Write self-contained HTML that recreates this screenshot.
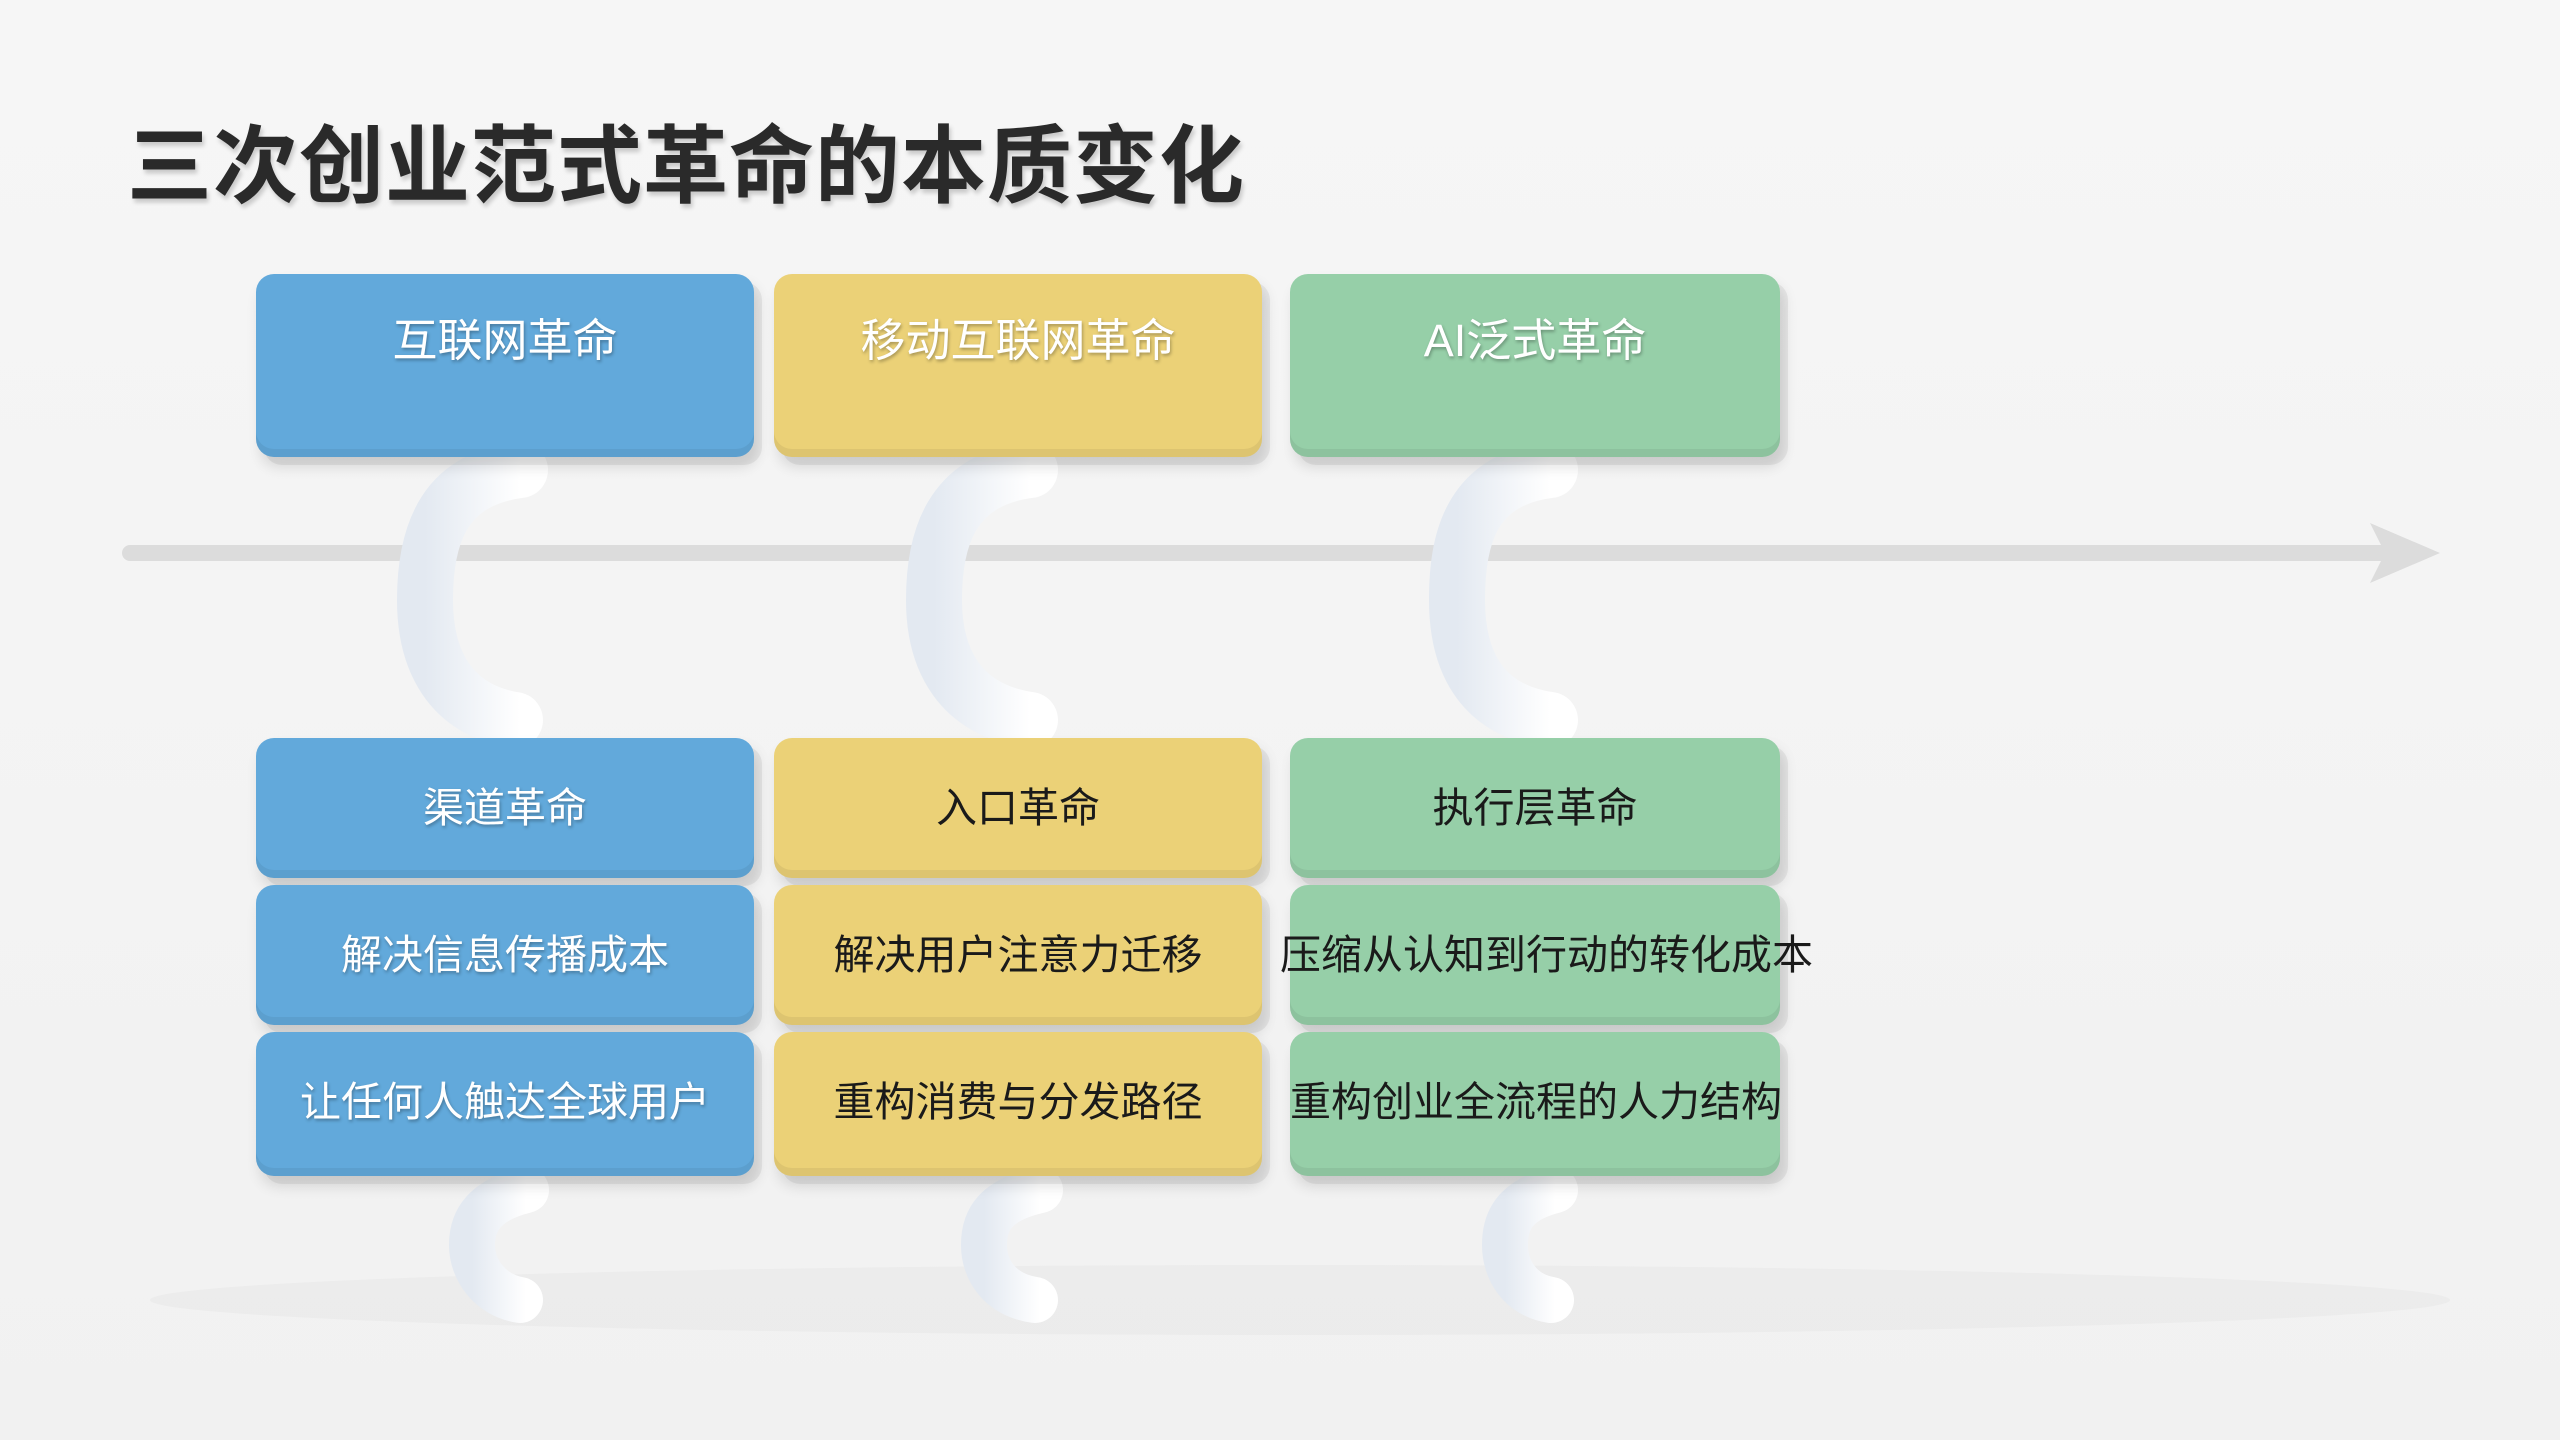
<!DOCTYPE html>
<html><head><meta charset="utf-8"><style>
body{margin:0;width:2560px;height:1440px;background:linear-gradient(#f6f6f6,#f1f1f1);position:relative;overflow:hidden;font-family:"Liberation Sans","Noto Sans CJK SC",sans-serif}
.t{position:absolute;left:127px;top:98px;font-size:85px;font-weight:bold;color:#2a2a2a;letter-spacing:1px;text-shadow:2px 4px 4px rgba(0,0,0,.18)}
.b{position:absolute;border-radius:18px;box-sizing:border-box;text-align:center;box-shadow:8px 8px 0 rgba(0,0,0,.06),4px 10px 14px rgba(0,0,0,.12), inset 0 -8px 0 rgba(0,0,0,.06)}
.top{top:274px;height:183px;font-size:45px;color:#fff;padding-top:30px;text-shadow:1px 2px 3px rgba(0,0,0,.3)}
.low{height:140px;line-height:140px;font-size:41px;color:#1a1a1a;white-space:nowrap}
.bl{background:#62a9db}.yl{background:#ebd177}.gr{background:#96cfa8}
.bl.low{color:#fff;text-shadow:1px 2px 3px rgba(0,0,0,.3)}
.c1{left:256px;width:498px}.c2{left:774px;width:488px}.c3{left:1290px;width:490px}
</style></head><body>
<svg width="2560" height="1440" style="position:absolute;left:0;top:0">
<defs><linearGradient id="g" x1="0" x2="1"><stop offset="0" stop-color="#e3e9f1"/><stop offset="1" stop-color="#ffffff"/></linearGradient></defs>
<ellipse cx="1300" cy="1300" rx="1150" ry="35" fill="rgba(0,0,0,0.025)"/>
<line x1="130" y1="553" x2="2390" y2="553" stroke="#dcdcdc" stroke-width="16" stroke-linecap="round"/>
<polygon points="2370,523 2440,553 2370,583 2385,553" fill="#dcdcdc"/>
<g fill="none" stroke="url(#g)" stroke-width="56" stroke-linecap="round">
<path d="M520,470 C440,480 425,540 425,600 C425,660 450,710 515,720"/>
<path d="M1030,470 C950,480 934,540 934,600 C934,660 960,710 1030,720"/>
<path d="M1550,470 C1470,480 1457,540 1457,600 C1457,660 1480,710 1550,720"/>
</g>
<g fill="none" stroke="url(#g)" stroke-width="46" stroke-linecap="round">
<path d="M526,1190 C485,1200 472,1220 472,1245 C472,1270 490,1295 520,1300"/>
<path d="M1040,1190 C995,1200 984,1220 984,1245 C984,1270 1000,1295 1035,1300"/>
<path d="M1555,1190 C1515,1200 1505,1220 1505,1245 C1505,1270 1520,1295 1551,1300"/>
</g></svg>
<div class="t">三次创业范式革命的本质变化</div>
<div class="b top bl c1">互联网革命</div>
<div class="b top yl c2">移动互联网革命</div>
<div class="b top gr c3">AI泛式革命</div>
<div class="b low bl c1" style="top:738px">渠道革命</div>
<div class="b low bl c1" style="top:885px">解决信息传播成本</div>
<div class="b low bl c1" style="top:1032px;height:144px">让任何人触达全球用户</div>
<div class="b low yl c2" style="top:738px">入口革命</div>
<div class="b low yl c2" style="top:885px">解决用户注意力迁移</div>
<div class="b low yl c2" style="top:1032px;height:144px">重构消费与分发路径</div>
<div class="b low gr c3" style="top:738px">执行层革命</div>
<div class="b low gr c3" style="top:885px;text-indent:-10px">压缩从认知到行动的转化成本</div>
<div class="b low gr c3" style="top:1032px;height:144px">重构创业全流程的人力结构</div>
</body></html>
